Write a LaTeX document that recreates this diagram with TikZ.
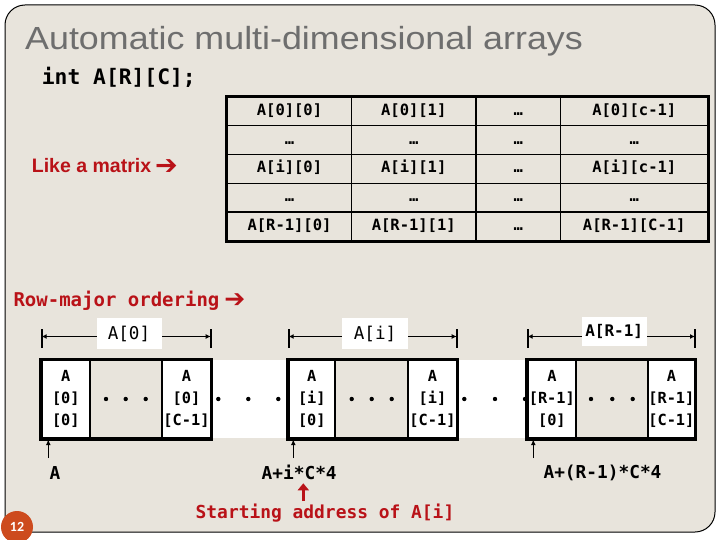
\documentclass[tikz,border=0pt]{standalone}
\usepackage{fontspec}
\setmainfont{Liberation Sans}
\newfontfamily\titlefont[FakeStretch=1.12]{Liberation Sans}
\newfontfamily\monof{DejaVu Sans Mono}
\newfontfamily\symf{DejaVu Sans}
\newfontfamily\pagef{Carlito}
\usetikzlibrary{arrows.meta}
\definecolor{bg}{RGB}{232,228,220}
\definecolor{slidered}{RGB}{185,18,24}
\definecolor{titlegray}{RGB}{110,110,110}
\definecolor{pageorange}{RGB}{205,75,30}
\tikzset{
  tcell/.style={draw=black, line width=1.4pt, inner sep=0pt, minimum height=28.8pt,
    font=\monof\bfseries\fontsize{15.5}{18}\selectfont, text height=11pt, text depth=3pt},
  wcell/.style={draw=black, line width=1.8pt, fill=white, inner sep=0pt, minimum height=78.3pt,
    align=center, font=\monof\bfseries\fontsize{15.3}{22}\selectfont},
  mcell/.style={draw=black, line width=1.8pt, fill=bg, inner sep=0pt, minimum height=78.3pt},
  gapcell/.style={fill=white, inner sep=0pt, minimum height=78.3pt},
  grp/.style={line width=3pt},
  brk/.style={line width=1.8pt, {Latex[length=5pt,width=5pt]}-{Latex[length=5pt,width=5pt]}},
  bar/.style={line width=2.2pt},
  lbl/.style={fill=white, inner sep=0pt, minimum height=31pt},
  uparr/.style={line width=1.4pt, -{Latex[length=6pt,width=5pt]}},
  redarr/.style={draw=slidered, line width=3.5pt, -{Triangle[length=7pt,width=11pt]}},
  addr/.style={inner sep=0pt, font=\monof\bfseries\fontsize{17.8}{20}\selectfont},
  plain/.style={anchor=base west, inner sep=0pt}
}
\begin{document}
\begin{tikzpicture}[x=1pt,y=-1pt]
\useasboundingbox (0,0) rectangle (720,540);
\fill[white] (0,0) rectangle (720,540);
% slide frame
\draw[line width=1pt, fill=bg] (5,400) [rounded corners=20pt] -- (5,5) -- (715,5) -- (715,532) -- (300,532) [sharp corners] -- (5,532) -- cycle;

% title and texts
\node[plain, text=titlegray, font=\titlefont\fontsize{32}{36}\selectfont] (title) at (25,49.3) {Automatic multi-dimensional arrays};
\node[plain, font=\monof\bfseries\fontsize{21.3}{24}\selectfont] (decl) at (41.7,85) {int A[R][C];};
\node[plain, text=slidered, font=\bfseries\fontsize{19.5}{22}\selectfont] (like) at (31.7,172.7) {Like a matrix\hspace{4pt}\raisebox{-1.5pt}{\symf\fontsize{27}{28}\selectfont ➔}};
\node[plain, text=slidered, font=\monof\bfseries\fontsize{19}{22}\selectfont] (rowmaj) at (13.3,306.3) {Row-major ordering\hspace{5pt}\raisebox{-1.5pt}{\symf\fontsize{25}{28}\selectfont ➔}};

% matrix table
\node[tcell, minimum width=124pt]   (t11) at (289.5,111.4) {A[0][0]};
\node[tcell, minimum width=124.5pt] (t12) at (413.75,111.4) {A[0][1]};
\node[tcell, minimum width=84.5pt]  (t13) at (518.25,111.4) {…};
\node[tcell, minimum width=147.5pt] (t14) at (634.25,111.4) {A[0][c-1]};
\node[tcell, minimum width=124pt]   (t21) at (289.5,140.2) {…};
\node[tcell, minimum width=124.5pt] (t22) at (413.75,140.2) {…};
\node[tcell, minimum width=84.5pt]  (t23) at (518.25,140.2) {…};
\node[tcell, minimum width=147.5pt] (t24) at (634.25,140.2) {…};
\node[tcell, minimum width=124pt]   (t31) at (289.5,169) {A[i][0]};
\node[tcell, minimum width=124.5pt] (t32) at (413.75,169) {A[i][1]};
\node[tcell, minimum width=84.5pt]  (t33) at (518.25,169) {…};
\node[tcell, minimum width=147.5pt] (t34) at (634.25,169) {A[i][c-1]};
\node[tcell, minimum width=124pt]   (t41) at (289.5,197.8) {…};
\node[tcell, minimum width=124.5pt] (t42) at (413.75,197.8) {…};
\node[tcell, minimum width=84.5pt]  (t43) at (518.25,197.8) {…};
\node[tcell, minimum width=147.5pt] (t44) at (634.25,197.8) {…};
\node[tcell, minimum width=124pt]   (t51) at (289.5,226.6) {A[R-1][0]};
\node[tcell, minimum width=124.5pt] (t52) at (413.75,226.6) {A[R-1][1]};
\node[tcell, minimum width=84.5pt]  (t53) at (518.25,226.6) {…};
\node[tcell, minimum width=147.5pt] (t54) at (634.25,226.6) {A[R-1][C-1]};
\draw[line width=2.8pt] (t11.north west) rectangle (t54.south east);

% row-major strip: gaps
\node[gapcell, minimum width=78pt] (gap1) at (249.7,399.15) {};
\node[gapcell, minimum width=71pt] (gap2) at (492.2,399.15) {};
% group 1
\node[wcell, minimum width=48.3pt] (c1a) at (65.85,399.15) {A\\{}[0]\\{}[0]};
\node[mcell, minimum width=72.3pt] (c1m) at (126.15,399.15) {};
\node[wcell, minimum width=48.4pt] (c1b) at (186.5,399.15) {A\\{}[0]\\{}[C-1]};
% group 2
\node[wcell, minimum width=46.3pt] (c2a) at (311.85,399.15) {A\\{}[i]\\{}[0]};
\node[mcell, minimum width=73.3pt] (c2m) at (371.65,399.15) {};
\node[wcell, minimum width=48.4pt] (c2b) at (432.5,399.15) {A\\{}[i]\\{}[C-1]};
% group 3
\node[wcell, minimum width=48.3pt] (c3a) at (551.85,399.15) {A\\{}[R-1]\\{}[0]};
\node[mcell, minimum width=71.7pt] (c3m) at (611.85,399.15) {};
\node[wcell, minimum width=47.3pt] (c3b) at (671.35,399.15) {A\\{}[R-1]\\{}[C-1]};
\draw[grp] (c1a.north west) rectangle (c1b.south east);
\draw[grp] (c2a.north west) rectangle (c2b.south east);
\draw[grp] (c3a.north west) rectangle (c3b.south east);

% dots
\foreach \dx in {106,125.7,145.7,218.3,248.3,278.3,351.7,371.7,391.7,464.3,495,525,591,612.3,632.7}
  \fill (\dx,399) circle (2.2);

% brackets
\coordinate (b1l) at (41.7,336.5);  \coordinate (b1r) at (210.7,336.5);
\coordinate (b2l) at (288.7,336.5); \coordinate (b2r) at (456.7,336.5);
\coordinate (b3l) at (527.7,336.5); \coordinate (b3r) at (695,336.5);
\foreach \p in {b1l,b1r,b2l,b2r,b3l,b3r}
  \draw[bar] (\p) ++(0,-7.5) -- ++(0,19);
\draw[brk] (b1l) -- (b1r);
\draw[brk] (b2l) -- (b2r);
\draw[brk] (b3l) -- (b3r);
\node[lbl, minimum width=65pt, font=\monof\fontsize{17.6}{20}\selectfont] (l1) at (129,333.5) {A[0]};
\node[lbl, minimum width=66pt, font=\monof\fontsize{17.6}{20}\selectfont] (l2) at (375,333.5) {A[i]};
\node[lbl, minimum width=65pt, minimum height=29pt, font=\monof\bfseries\fontsize{16}{18}\selectfont] (l3) at (614.2,331.7) {A[R-1]};

% address arrows and labels
\coordinate (a1) at (48.3,458);
\coordinate (a2) at (293.3,458);
\coordinate (a3) at (533.3,458);
\draw[uparr] (a1) -- (a1 |- c1a.south);
\draw[uparr] (a2) -- (a2 |- c2a.south);
\draw[uparr] (a3) -- (a3 |- c3a.south);
\node[addr] (addrA) at (55,472.7) {A};
\node[addr] (addrI) at (299.2,472.7) {A+i*C*4};
\node[addr] (addrR) at (602.5,472.7) {A+(R-1)*C*4};

% starting address
\node[inner sep=0pt, text=slidered, font=\monof\bfseries\fontsize{17.9}{20}\selectfont] (start) at (325,513.3) {Starting address of A[i]};
\coordinate (r1) at (303.3,501);
\coordinate (r2) at (303.3,483.3);
\draw[redarr] (r1) -- (r2);

% page number
\node[circle, fill=pageorange, minimum size=32pt, inner sep=0pt, text=white, font=\pagef\bfseries\fontsize{14}{16}\selectfont] (pg) at (17,527) {12};
\end{tikzpicture}
\end{document}
